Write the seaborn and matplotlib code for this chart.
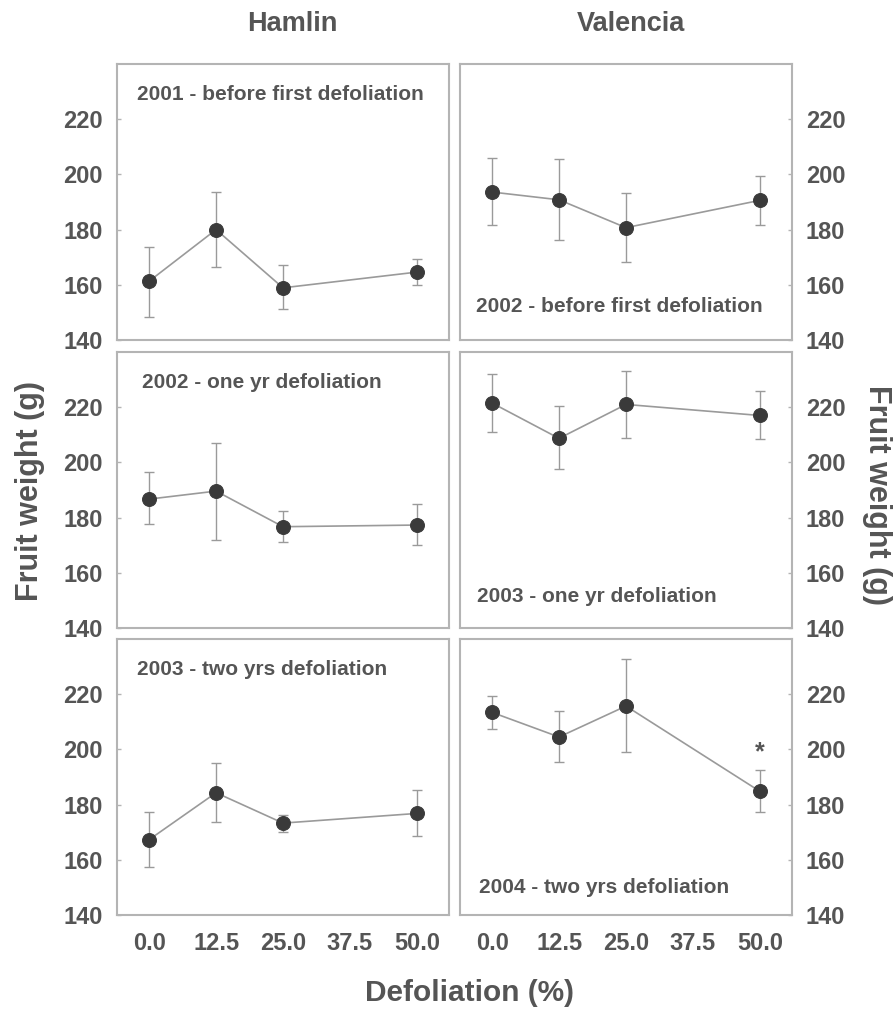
import numpy as np
import pandas as pd
import matplotlib
matplotlib.use("Agg")
import matplotlib.pyplot as plt
import seaborn as sns

sns.set_theme(style="white")
plt.rcParams['font.family'] = ['Liberation Sans', 'DejaVu Sans']
plt.rcParams['font.weight'] = 'bold'

defoliation = [0.0, 12.5, 25.0, 50.0]
xtick_vals = [0.0, 12.5, 25.0, 37.5, 50.0]
xtick_labels = ["0.0", "12.5", "25.0", "37.5", "50.0"]
ytick_vals = [140, 160, 180, 200, 220]

hamlin_2001 = [161.3, 180.0, 158.9, 164.6]
hamlin_2001_lo = [148.5, 166.5, 151.2, 159.8]
hamlin_2001_hi = [173.7, 193.7, 167.0, 169.2]

valencia_2002 = [193.6, 190.8, 180.7, 190.6]
valencia_2002_lo = [181.8, 176.4, 168.2, 181.8]
valencia_2002_hi = [205.9, 205.4, 193.2, 199.5]

hamlin_2002 = [186.7, 189.6, 176.7, 177.3]
hamlin_2002_lo = [177.6, 171.8, 171.2, 170.0]
hamlin_2002_hi = [196.4, 207.0, 182.4, 184.9]

valencia_2003 = [221.5, 208.7, 221.0, 217.0]
valencia_2003_lo = [211.1, 197.5, 209.0, 208.4]
valencia_2003_hi = [232.0, 220.4, 233.0, 226.0]

hamlin_2003 = [167.3, 184.3, 173.3, 176.8]
hamlin_2003_lo = [157.3, 173.6, 170.2, 168.8]
hamlin_2003_hi = [177.3, 195.0, 176.3, 185.3]

valencia_2004 = [213.4, 204.5, 215.7, 184.8]
valencia_2004_lo = [207.3, 195.5, 199.2, 177.3]
valencia_2004_hi = [219.4, 214.0, 232.6, 192.5]

panel_titles = [
    "2001 - before first defoliation", "2002 - before first defoliation",
    "2002 - one yr defoliation", "2003 - one yr defoliation",
    "2003 - two yrs defoliation", "2004 - two yrs defoliation",
]
col_titles = ["Hamlin", "Valencia"]

panels = [
    (hamlin_2001, hamlin_2001_lo, hamlin_2001_hi),
    (valencia_2002, valencia_2002_lo, valencia_2002_hi),
    (hamlin_2002, hamlin_2002_lo, hamlin_2002_hi),
    (valencia_2003, valencia_2003_lo, valencia_2003_hi),
    (hamlin_2003, hamlin_2003_lo, hamlin_2003_hi),
    (valencia_2004, valencia_2004_lo, valencia_2004_hi),
]
# title position (axes coords)
title_pos = [(0.06, 0.888), (0.048, 0.123), (0.075, 0.89),
             (0.05, 0.113), (0.06, 0.891), (0.057, 0.10)]

TXT = "#555555"
SPINE = "#b4b4b4"
LINE = "#9a9a9a"
MARK = "#3a3a3a"

fig = plt.figure(figsize=(8.95, 10.10), dpi=100)
W, H = 895, 1010
col_left = [117, 460]
row_top = [64, 352, 639]
aw, ah = 332, 276

axes = []
for r in range(3):
    for c in range(2):
        l = col_left[c] / W
        b = (H - row_top[r] - ah) / H
        ax = fig.add_axes([l, b, aw / W, ah / H])
        axes.append(ax)

for i, ax in enumerate(axes):
    r, c = divmod(i, 2)
    y, lo, hi = panels[i]
    df = pd.DataFrame({"x": defoliation, "y": y})
    yerr = [np.array(y) - np.array(lo), np.array(hi) - np.array(y)]
    ax.errorbar(defoliation, y, yerr=yerr, fmt='none', ecolor=LINE,
                elinewidth=1.0, capsize=3.5, capthick=1.0, zorder=1)
    sns.lineplot(data=df, x="x", y="y", ax=ax, color=LINE, linewidth=1.2,
                 marker='o', markersize=10, markerfacecolor=MARK,
                 markeredgecolor=MARK, zorder=3)
    ax.set_xlim(-6, 56)
    ax.set_ylim(140, 240)
    ax.set_xticks(xtick_vals)
    ax.set_yticks(ytick_vals)
    ax.set_xlabel("")
    ax.set_ylabel("")
    for s in ax.spines.values():
        s.set_color(SPINE)
        s.set_linewidth(1.5)
    ax.tick_params(axis='both', direction='in', length=3, width=1,
                   color=SPINE, labelsize=17, labelcolor=TXT, pad=10)
    if r < 2:
        ax.set_xticklabels([])
    else:
        ax.set_xticklabels(xtick_labels)
        ax.tick_params(axis='x', pad=12)
    if c == 0:
        ax.yaxis.tick_left()
        ax.set_yticklabels([str(v) for v in ytick_vals])
    else:
        ax.yaxis.tick_right()
        ax.set_yticklabels([str(v) for v in ytick_vals])
    for lab in ax.get_xticklabels() + ax.get_yticklabels():
        lab.set_fontweight('bold')
    tx, ty = title_pos[i]
    ax.text(tx, ty, panel_titles[i], transform=ax.transAxes, ha='left',
            va='center', fontsize=15, fontweight='bold', color=TXT)

# asterisk on Valencia 2004 at 50%
axes[5].text(defoliation[3], 199, "*", ha='center', va='center',
             fontsize=18, fontweight='bold', color=TXT)

fig.text(292 / W, 1 - 24 / H, col_titles[0], ha='center', va='center',
         fontsize=19.5, fontweight='bold', color=TXT)
fig.text(631 / W, 1 - 24 / H, col_titles[1], ha='center', va='center',
         fontsize=19.5, fontweight='bold', color=TXT)
fig.text(30 / W, 1 - 491 / H, "Fruit weight (g)", rotation=90, ha='center',
         va='center', fontsize=22, fontweight='bold', color=TXT)
fig.text(877 / W, 1 - 495 / H, "Fruit weight (g)", rotation=270, ha='center',
         va='center', fontsize=22, fontweight='bold', color=TXT)
fig.text(470 / W, 1 - 993 / H, "Defoliation (%)", ha='center', va='center',
         fontsize=21.5, fontweight='bold', color=TXT)

fig.savefig("out.png", dpi=100, facecolor='white')
